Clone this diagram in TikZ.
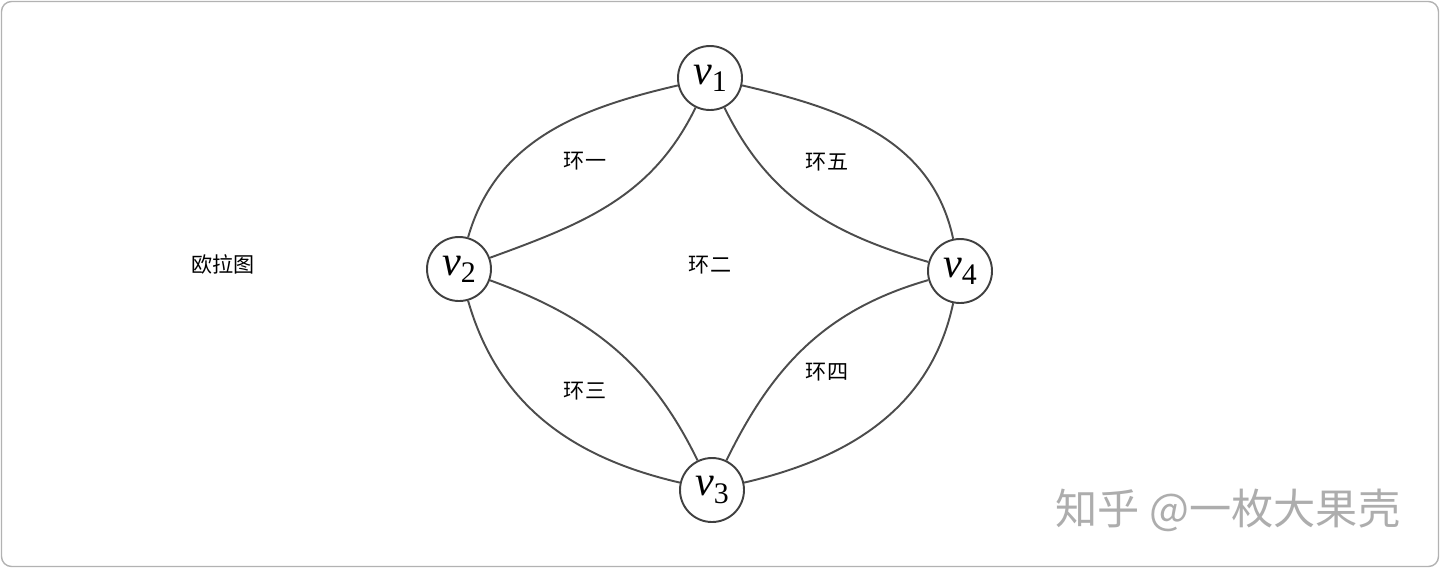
\documentclass[tikz,border=0pt]{standalone}
\usepackage{fontspec}
\setmainfont{Noto Sans CJK SC}
\newfontfamily\tmsfont{Liberation Serif}
\newcommand{\vlab}[1]{{\tmsfont\itshape v}\raisebox{-0.32ex}{\tmsfont\fontsize{17}{17}\selectfont #1}}

\begin{document}
\begin{tikzpicture}[
    vtx/.style={draw=black!75, circle, line width=1.1pt, fill=white, minimum size=1.28cm, inner sep=0pt, font=\fontsize{24}{24}\selectfont},
    edge/.style={draw=black!70, line width=1.1pt},
    lab/.style={font=\fontsize{12}{12}\selectfont}
  ]
        \useasboundingbox (0,0) rectangle (28.8,-11.36);
        \draw[black!30, line width=0.8pt, rounded corners=0.2cm] (0.03,-0.03) rectangle (28.77,-11.33);

        \node[vtx] (v1) at (14.2,-1.56) {\vlab{1}};
        \node[vtx] (v2) at (9.18,-5.38) {\vlab{2}};
        \node[vtx] (v3) at (14.24,-9.8) {\vlab{3}};
        \node[vtx] (v4) at (19.2,-5.42) {\vlab{4}};

        % outer ring
        \draw[edge] (v1) to[out=193, in=74] (v2);
        \draw[edge] (v2) to[out=-74, in=167] (v3);
        \draw[edge] (v3) to[out=13, in=-102] (v4);
        \draw[edge] (v4) to[out=102, in=-13] (v1);

        % inner arcs
        \draw[edge] (v1) to[out=-116, in=20] (v2);
        \draw[edge] (v2) to[out=-20, in=116] (v3);
        \draw[edge] (v3) to[out=64, in=-164] (v4);
        \draw[edge] (v4) to[out=164, in=-64] (v1);

        \node[lab] (euler) at (4.46,-5.28) {欧拉图};
        \node[lab] (r1) at (11.7,-3.22) {环一};
        \node[lab] (r2) at (14.2,-5.3) {环二};
        \node[lab] (r3) at (11.7,-7.82) {环三};
        \node[lab] (r4) at (16.54,-7.44) {环四};
        \node[lab] (r5) at (16.54,-3.24) {环五};

        \node[text=black!32, font=\fontsize{24}{24}\selectfont] (mark) at (24.56,-10.2) {知乎 @一枚大果壳};
    \end{tikzpicture}
\end{document}
